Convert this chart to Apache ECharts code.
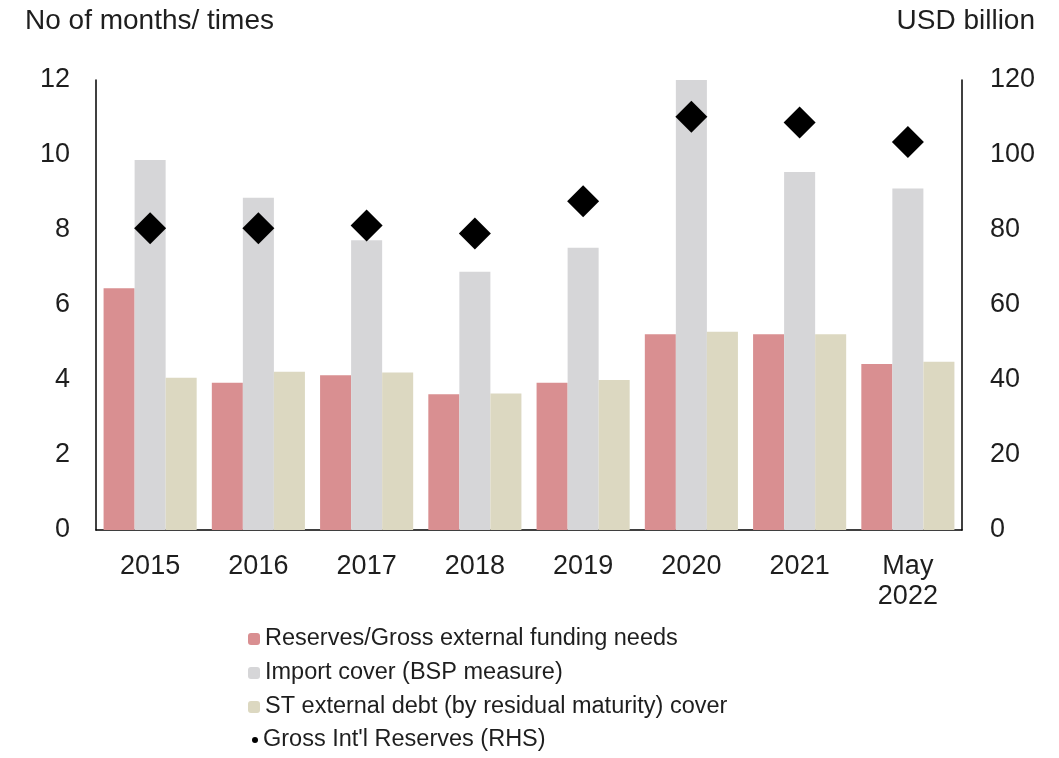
<!DOCTYPE html>
<html>
<head>
<meta charset="utf-8">
<script src="https://cdn.jsdelivr.net/npm/echarts@6/dist/echarts.min.js"></script>
<style>
  html, body { margin: 0; padding: 0; background: #fff; }
  #chart { width: 1059px; height: 758px; }
</style>
</head>
<body>
<div id="chart"></div>
<script>
// Philippine reserve adequacy indicators
const categories = ['2015', '2016', '2017', '2018', '2019', '2020', '2021', 'May\n2022'];
const fundingNeeds = [6.45, 3.93, 4.13, 3.62, 3.93, 5.22, 5.22, 4.43];   // Reserves/Gross external funding needs
const importCover = [9.87, 8.86, 7.73, 6.89, 7.53, 12.0, 9.55, 9.11];    // months
const stDebtCover = [4.06, 4.22, 4.20, 3.64, 4.00, 5.29, 5.22, 4.49];    // times
const grossReserves = [80.5, 80.5, 81.2, 79.1, 87.7, 110.2, 108.7, 103.5]; // USD billion
const leftTicks = [0, 12, 2];
const rightTicks = [0, 120, 20];

const FONT = '"Liberation Sans", Arial, sans-serif';
const TEXT = '#1e1e1e';

const chart = echarts.init(document.getElementById('chart'));
chart.setOption({
  animation: false,
  backgroundColor: '#fff',
  textStyle: { fontFamily: FONT },
  grid: { left: 96, right: 97, top: 80, bottom: 228, containLabel: false, outerBoundsMode: 'none' },
  legend: [
    {
      orient: 'vertical', left: 243, top: 622,
      itemWidth: 12, itemHeight: 12, itemGap: 10,
      textStyle: { fontSize: 23.5, color: TEXT, fontFamily: FONT },
      data: ['Reserves/Gross external funding needs', 'Import cover (BSP measure)', 'ST external debt (by residual maturity) cover']
    },
    {
      orient: 'vertical', left: 247, top: 723,
      itemWidth: 6, itemHeight: 6,
      textStyle: { fontSize: 23.5, color: TEXT, fontFamily: FONT },
      data: [{ name: "Gross Int'l Reserves (RHS)", icon: 'circle' }]
    }
  ],
  xAxis: {
    type: 'category',
    data: categories,
    axisLine: { lineStyle: { color: '#000', width: 1.5 } },
    axisTick: { show: false },
    axisLabel: { fontSize: 27, color: TEXT, margin: 22, lineHeight: 30, fontFamily: FONT }
  },
  yAxis: [
    {
      type: 'value', min: leftTicks[0], max: leftTicks[1], interval: leftTicks[2],
      name: 'No of months/ times', nameLocation: 'end', nameGap: 45,
      nameTextStyle: { fontSize: 28, color: TEXT, align: 'left', padding: [0, 0, 0, -71], fontFamily: FONT },
      axisLine: { show: true, lineStyle: { color: '#000', width: 1.5 } },
      axisTick: { show: false },
      splitLine: { show: false },
      axisLabel: { fontSize: 27, color: TEXT, margin: 26, fontFamily: FONT }
    },
    {
      type: 'value', min: rightTicks[0], max: rightTicks[1], interval: rightTicks[2],
      name: 'USD billion', nameLocation: 'end', nameGap: 45,
      nameTextStyle: { fontSize: 28, color: TEXT, align: 'right', padding: [0, -73, 0, 0], fontFamily: FONT },
      axisLine: { show: true, lineStyle: { color: '#000', width: 1.5 } },
      axisTick: { show: false },
      splitLine: { show: false },
      axisLabel: { fontSize: 27, color: TEXT, margin: 28, fontFamily: FONT }
    }
  ],
  series: [
    {
      name: 'Reserves/Gross external funding needs', type: 'bar',
      data: fundingNeeds, barGap: '0%', barCategoryGap: '14%',
      itemStyle: { color: '#d98f91' }
    },
    {
      name: 'Import cover (BSP measure)', type: 'bar',
      data: importCover, barGap: '0%', barCategoryGap: '14%',
      itemStyle: { color: '#d6d6d8' }
    },
    {
      name: 'ST external debt (by residual maturity) cover', type: 'bar',
      data: stDebtCover, barGap: '0%', barCategoryGap: '14%',
      itemStyle: { color: '#dcd8c1' }
    },
    {
      name: "Gross Int'l Reserves (RHS)", type: 'scatter', yAxisIndex: 1,
      data: grossReserves, symbol: 'diamond', symbolSize: [32, 32],
      itemStyle: { color: '#000', opacity: 1 }, z: 5
    }
  ]
});
</script>
</body>
</html>
